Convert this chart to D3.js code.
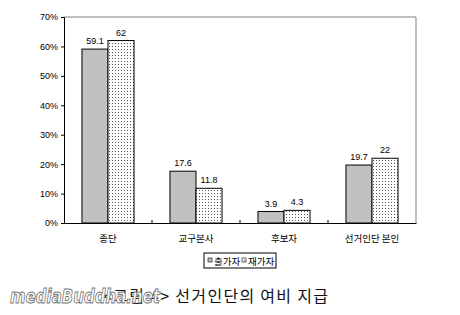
<!DOCTYPE html>
<html>
<head>
<meta charset="utf-8">
<script src="https://cdn.jsdelivr.net/npm/d3@7/dist/d3.min.js"></script>
<style>
  body { margin: 0; background: #fff; }
  svg { display: block; }
</style>
</head>
<body>
<div id="chart"></div>
<script>
// data
const categories = ["종단", "교구본사", "후보자", "선거인단 본인"];
const seriesNames = ["출가자", "재가자"];
const monkValues = [59.1, 17.6, 3.9, 19.7];
const layValues = [62, 11.8, 4.3, 22];
const valueLabels = [["59.1", "17.6", "3.9", "19.7"], ["62", "11.8", "4.3", "22"]];
const yTicks = [0, 10, 20, 30, 40, 50, 60, 70];
const captionText = "<그림 4> 선거인단의 여비 지급";

const width = 460, height = 315;
const plot = { left: 64, top: 17, right: 416, bottom: 223 };

const svg = d3.select("#chart").append("svg")
    .attr("width", width)
    .attr("height", height);

// dotted fill for the second series
const defs = svg.append("defs");
const pat = defs.append("pattern")
    .attr("id", "dots")
    .attr("width", 3)
    .attr("height", 3)
    .attr("patternUnits", "userSpaceOnUse");
pat.append("rect").attr("width", 3).attr("height", 3).attr("fill", "#fff");
pat.append("rect").attr("x", 1).attr("y", 1).attr("width", 1).attr("height", 1).attr("fill", "#555");

const fills = ["#c0c0c0", "url(#dots)"];

const x0 = d3.scaleBand()
    .domain(categories)
    .range([plot.left, plot.right])
    .padding(0);

const x1 = d3.scaleBand()
    .domain(seriesNames)
    .range([0, x0.bandwidth()])
    .paddingInner(0)
    .paddingOuter(0.69);

const y = d3.scaleLinear()
    .domain([0, 70])
    .range([plot.bottom, plot.top]);

const numFont = "'Liberation Sans', Arial, sans-serif";
const krFont = "'Noto Sans CJK KR', 'Noto Sans', sans-serif";

// plot frame (top and right in grey)
svg.append("path")
    .attr("d", `M${plot.left},${plot.top}H${plot.right}V${plot.bottom}`)
    .attr("fill", "none")
    .attr("stroke", "#808080")
    .attr("stroke-width", 1);

// y axis
const yAxis = svg.append("g")
    .attr("transform", `translate(${plot.left},0)`)
    .call(d3.axisLeft(y).tickValues(yTicks).tickSize(3).tickFormat(d => d + "%"));
yAxis.select(".domain").attr("stroke", "#000");
yAxis.selectAll(".tick line").attr("stroke", "#000");
yAxis.selectAll("text")
    .attr("x", -6)
    .attr("fill", "#000")
    .style("font-family", numFont)
    .style("font-size", "9px");

// bars
const seriesData = [monkValues, layValues];
const groups = svg.append("g").selectAll("g")
    .data(seriesData)
    .enter().append("g");

groups.each(function (vals, si) {
    const g = d3.select(this);
    g.selectAll("rect")
        .data(vals)
        .enter().append("rect")
        .attr("x", (d, i) => x0(categories[i]) + x1(seriesNames[si]))
        .attr("y", d => y(d))
        .attr("width", x1.bandwidth())
        .attr("height", d => y(0) - y(d))
        .attr("fill", fills[si])
        .attr("stroke", "#000")
        .attr("stroke-width", 1);

    g.selectAll("text")
        .data(vals)
        .enter().append("text")
        .attr("x", (d, i) => x0(categories[i]) + x1(seriesNames[si]) + x1.bandwidth() / 2)
        .attr("y", d => y(d) - 5)
        .attr("text-anchor", "middle")
        .style("font-family", numFont)
        .style("font-size", "9px")
        .text((d, i) => valueLabels[si][i]);
});

// x axis
const xAxis = svg.append("g")
    .attr("transform", `translate(0,${plot.bottom})`)
    .call(d3.axisBottom(x0).tickSize(0).tickPadding(12));
xAxis.select(".domain").attr("stroke", "#000");
xAxis.selectAll("text")
    .attr("fill", "#000")
    .style("font-family", krFont)
    .style("font-size", "9.5px");

// small category boundary ticks
svg.append("g").selectAll("line")
    .data(categories.slice(1))
    .enter().append("line")
    .attr("x1", d => x0(d))
    .attr("x2", d => x0(d))
    .attr("y1", plot.bottom - 3)
    .attr("y2", plot.bottom)
    .attr("stroke", "#000");

// legend
const legend = svg.append("g").attr("transform", "translate(204,253)");
legend.append("rect")
    .attr("width", 72)
    .attr("height", 15)
    .attr("fill", "#fff")
    .attr("stroke", "#000");
const legX = [4, 38];
seriesNames.forEach((name, i) => {
    legend.append("rect")
        .attr("x", legX[i])
        .attr("y", 5)
        .attr("width", 4)
        .attr("height", 4)
        .attr("fill", fills[i])
        .attr("stroke", "#000")
        .attr("stroke-width", 0.6);
    legend.append("text")
        .attr("x", legX[i] + 6)
        .attr("y", 11.5)
        .style("font-family", krFont)
        .style("font-size", "9.5px")
        .text(name);
});

// caption
svg.append("text")
    .attr("x", 103)
    .attr("y", 302)
    .style("font-family", krFont)
    .style("font-size", "16px")
    .style("letter-spacing", "1.3px")
    .attr("fill", "#111")
    .text(captionText);

// watermark (drawn over the start of the caption, as in the source image)
svg.append("text")
    .attr("x", 10)
    .attr("y", 303)
    .style("font-family", "'DejaVu Sans', sans-serif")
    .style("font-size", "20px")
    .style("font-style", "italic")
    .style("font-weight", "bold")
    .attr("fill", "#fff")
    .attr("stroke", "#777")
    .attr("stroke-width", 1)
    .attr("textLength", 150)
    .attr("lengthAdjust", "spacingAndGlyphs")
    .text("mediaBuddha.net");
</script>
</body>
</html>
